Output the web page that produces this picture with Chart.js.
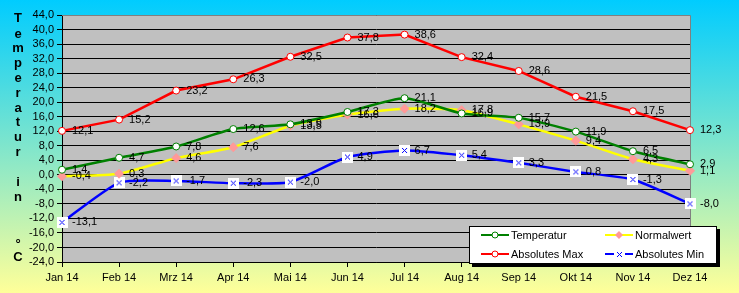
<!DOCTYPE html>
<html><head><meta charset="utf-8">
<script src="https://cdn.jsdelivr.net/npm/chart.js@4"></script>
<style>html,body{margin:0;padding:0;}canvas{display:block;}</style>
</head><body>
<canvas id="c" width="739" height="293"></canvas>
<script>
const categories = ["Jan 14","Feb 14","Mrz 14","Apr 14","Mai 14","Jun 14","Jul 14","Aug 14","Sep 14","Okt 14","Nov 14","Dez 14"];
const temperatur = [1.4, 4.7, 7.8, 12.6, 13.9, 17.3, 21.1, 16.9, 15.7, 11.9, 6.5, 2.9];
const normalwert = [-0.4, 0.3, 4.6, 7.6, 13.5, 16.6, 18.2, 17.8, 13.9, 9.4, 4.3, 1.1];
const absMax = [12.1, 15.2, 23.2, 26.3, 32.5, 37.8, 38.6, 32.4, 28.6, 21.5, 17.5, 12.3];
const absMin = [-13.1, -2.2, -1.7, -2.3, -2.0, 4.9, 6.7, 5.4, 3.3, 0.8, -1.3, -8.0];
const yMin = -24, yMax = 44, yStep = 4;
const axisTitle = [["T",18],["e",34],["m",48],["p",63],["e",78],["r",93],["a",108],["t",122],["u",137],["r",152],["i",182],["n",197],["°",244],["C",257]];

const FONT = '"Liberation Sans", Arial, sans-serif';
const fmt = v => v.toFixed(1).replace('.', ',');

// marker for Absolutes Min: white square with blue x
const minMarker = document.createElement('canvas');
minMarker.width = 11; minMarker.height = 11;
(function(){
  const g = minMarker.getContext('2d');
  g.fillStyle = '#fff'; g.fillRect(0,0,11,11);
  g.strokeStyle = '#0000FF'; g.lineWidth = 1;
  g.beginPath(); g.moveTo(3,3); g.lineTo(8,8); g.moveTo(8,3); g.lineTo(3,8); g.stroke();
})();

const bgPlugin = {
  id: 'bg',
  beforeDraw(chart) {
    const {ctx, width, height, chartArea: a} = chart;
    ctx.save();
    const gr = ctx.createLinearGradient(0, 0, 0, height);
    gr.addColorStop(0, '#00CCFF');
    gr.addColorStop(1, '#FFFF99');
    ctx.fillStyle = gr;
    ctx.fillRect(0, 0, width, height);
    ctx.fillStyle = '#C0C0C0';
    ctx.fillRect(a.left, a.top, a.right - a.left, a.bottom - a.top);
    ctx.restore();
  },
  beforeDatasetsDraw(chart) {
    const {ctx, chartArea: a} = chart;
    ctx.save();
    ctx.strokeStyle = '#808080'; ctx.lineWidth = 1;
    ctx.beginPath();
    ctx.moveTo(a.left, a.top + 0.5); ctx.lineTo(a.right + 0.5, a.top + 0.5); ctx.lineTo(a.right + 0.5, a.bottom);
    ctx.stroke();
    ctx.restore();
  },
  afterDraw(chart) {
    const {ctx} = chart;
    ctx.save();
    // data labels
    ctx.font = '11px ' + FONT;
    ctx.fillStyle = '#000';
    ctx.textBaseline = 'middle';
    ctx.textAlign = 'left';
    chart.data.datasets.forEach((ds, i) => {
      const meta = chart.getDatasetMeta(i);
      meta.data.forEach((pt, j) => {
        ctx.fillText(fmt(ds.data[j]), pt.x + 10, pt.y);
      });
    });
    // axis title
    ctx.font = 'bold 13px ' + FONT;
    ctx.textAlign = 'center';
    axisTitle.forEach(([ch, y]) => ctx.fillText(ch, 18, y));
    // legend
    const L = 469, T = 226, R = 717, B = 264;
    ctx.fillStyle = '#000';
    ctx.fillRect(L + 3, T + 3, R - L, B - T);
    ctx.fillStyle = '#fff';
    ctx.fillRect(L, T, R - L, B - T);
    ctx.strokeStyle = '#000'; ctx.lineWidth = 1;
    ctx.strokeRect(L + 0.5, T + 0.5, R - L - 1, B - T - 1);
    const items = [
      [0, 481, 235], [1, 605, 235], [2, 481, 254], [3, 605, 254]
    ];
    ctx.font = '11px ' + FONT;
    ctx.textAlign = 'left';
    items.forEach(([di, x, y]) => {
      const ds = chart.data.datasets[di];
      ctx.strokeStyle = ds.borderColor; ctx.lineWidth = 2;
      ctx.beginPath(); ctx.moveTo(x, y); ctx.lineTo(x + 28, y); ctx.stroke();
      if (ds.pointStyle === minMarker) {
        ctx.drawImage(minMarker, x + 14 - 5, y - 5);
      } else if (ds.pointStyle === 'circle') {
        ctx.beginPath(); ctx.arc(x + 14, y, 3, 0, Math.PI * 2); ctx.fillStyle = '#fff'; ctx.fill(); ctx.strokeStyle = ds.borderColor; ctx.lineWidth = 1; ctx.stroke();
      } else {
        ctx.beginPath(); ctx.moveTo(x + 14, y - 4); ctx.lineTo(x + 18, y); ctx.lineTo(x + 14, y + 4); ctx.lineTo(x + 10, y); ctx.closePath();
        ctx.fillStyle = ds.pointBackgroundColor; ctx.fill();
      }
      ctx.fillStyle = '#000';
      ctx.fillText(ds.label, x + 30, y + 1);
    });
    ctx.restore();
  }
};

const common = { borderWidth: 2.5, pointRadius: 3.5, pointBorderWidth: 1, fill: false, clip: false };

new Chart(document.getElementById('c'), {
  type: 'line',
  data: {
    labels: categories,
    datasets: [
      Object.assign({}, common, { label: 'Temperatur', data: temperatur, borderColor: '#008000', pointStyle: 'circle', pointBackgroundColor: '#FFFFFF', pointBorderColor: '#008000', tension: 0.2 }),
      Object.assign({}, common, { label: 'Normalwert', data: normalwert, borderColor: '#FFFF00', pointStyle: 'rectRot', pointRadius: 4.5, pointBackgroundColor: '#FF9999', pointBorderColor: '#FF9999', tension: 0.2 }),
      Object.assign({}, common, { label: 'Absolutes Max', data: absMax, borderColor: '#FF0000', pointStyle: 'circle', pointBackgroundColor: '#FFFFFF', pointBorderColor: '#FF0000', tension: 0 }),
      Object.assign({}, common, { label: 'Absolutes Min', data: absMin, borderColor: '#0000FF', pointStyle: minMarker, pointBackgroundColor: '#FFFFFF', pointBorderColor: '#0000FF', tension: 0.2 })
    ]
  },
  options: {
    responsive: false,
    animation: false,
    devicePixelRatio: 1,
    layout: { padding: { top: 15, right: 49, left: 0, bottom: 0 } },
    plugins: { legend: { display: false }, tooltip: { enabled: false } },
    scales: {
      x: {
        offset: false,
        grid: { display: true, drawOnChartArea: false, color: '#000', tickLength: 5 },
        border: { display: true, color: '#000', width: 1 },
        ticks: { color: '#000', font: { family: FONT, size: 11 }, maxRotation: 0, autoSkip: false, padding: 4 },
        afterFit(s) { s.height = 31; }
      },
      y: {
        min: yMin, max: yMax,
        grid: { color: '#000', tickLength: 5, lineWidth: 1 },
        border: { display: true, color: '#000', width: 1 },
        ticks: { stepSize: yStep, autoSkip: false, color: '#000', font: { family: FONT, size: 11 }, padding: 3, callback: v => fmt(v) },
        afterFit(s) { s.width = 62; }
      }
    }
  },
  plugins: [bgPlugin]
});
</script>
</body></html>
